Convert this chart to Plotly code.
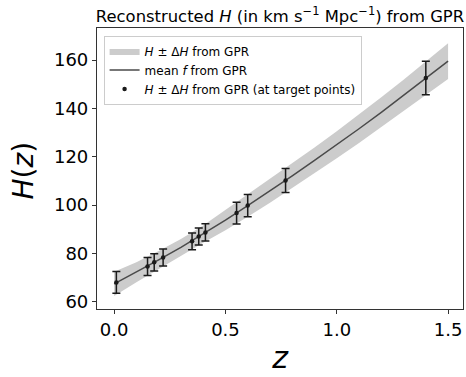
import plotly.graph_objects as go

# GPR reconstruction grid
z_grid = [0.0, 0.1, 0.2, 0.3, 0.4, 0.5, 0.6, 0.7, 0.8, 0.9, 1.0, 1.1, 1.2, 1.3, 1.4, 1.5]
H_mean = [67.4, 72.2, 77.3, 82.5, 88.0, 93.8, 99.8, 105.9, 112.1, 118.5, 125.0, 131.6, 138.4, 145.4, 152.5, 159.6]
H_sigma = [5.0, 4.1, 3.7, 3.5, 3.6, 4.2, 4.6, 4.9, 5.1, 5.3, 5.6, 5.9, 6.2, 6.5, 6.9, 7.4]

# target points
z_target = [0.01, 0.15, 0.18, 0.22, 0.35, 0.38, 0.41, 0.55, 0.60, 0.77, 1.40]
H_target = [68.0, 74.6, 76.3, 78.3, 85.0, 87.0, 88.7, 96.7, 99.8, 110.2, 152.6]
H_target_err = [4.5, 3.7, 3.6, 3.5, 3.5, 3.5, 3.6, 4.5, 4.6, 5.0, 6.9]

upper = [m + s for m, s in zip(H_mean, H_sigma)]
lower = [m - s for m, s in zip(H_mean, H_sigma)]

FONT = "DejaVu Sans"

fig = go.Figure()
fig.add_trace(go.Scatter(
    x=z_grid + z_grid[::-1], y=upper + lower[::-1],
    fill="toself", fillcolor="#cccccc", line=dict(width=0, color="#cccccc"),
    mode="lines", name="<i>H</i> ± Δ<i>H</i> from GPR", hoverinfo="skip"))
fig.add_trace(go.Scatter(
    x=z_grid, y=H_mean, mode="lines", line=dict(color="#4a4a4a", width=1.5),
    name="mean <i>f</i> from GPR"))
fig.add_trace(go.Scatter(
    x=z_target, y=H_target, mode="markers",
    marker=dict(color="#1a1a1a", size=4.5),
    error_y=dict(type="data", array=H_target_err, visible=True, color="#1a1a1a",
                 thickness=1.5, width=4),
    name="<i>H</i> ± Δ<i>H</i> from GPR (at target points)"))

fig.update_layout(
    width=466, height=377,
    margin=dict(l=97, r=3, t=28, b=68),
    paper_bgcolor="white", plot_bgcolor="white",
    font=dict(family=FONT, color="black"),
    title=dict(text="Reconstructed <i>H</i> (in km s<sup>−1</sup> Mpc<sup>−1</sup>) from GPR",
               x=(97 + 463) / 2 / 466, xanchor="center", y=1 - 22 / 377, yanchor="bottom",
               font=dict(size=16.4, family=FONT, color="black")),
    showlegend=True,
    legend=dict(x=0.018, y=0.973, xanchor="left", yanchor="top",
                bgcolor="rgba(255,255,255,0.8)", bordercolor="#cccccc", borderwidth=1,
                font=dict(size=12, family=FONT), tracegroupgap=2, itemwidth=30),
    annotations=[dict(text="<i>H</i>(<i>z</i>)", textangle=-90, showarrow=False,
                      xref="paper", yref="paper", x=(22.5 - 97) / 366, y=(309 - 171) / 281,
                      xanchor="center", yanchor="middle", font=dict(size=28, family=FONT))],
)
fig.update_xaxes(
    range=[-0.077, 1.567], tickvals=[0.0, 0.5, 1.0, 1.5], ticktext=["0.0", "0.5", "1.0", "1.5"],
    showline=True, linecolor="#333333", linewidth=1.2, mirror=True,
    ticks="outside", ticklen=4, tickwidth=1, tickcolor="#333333",
    showgrid=False, zeroline=False, tickfont=dict(size=18),
    title=dict(text="<i>z</i>", font=dict(size=30), standoff=8))
fig.update_yaxes(
    range=[57.0, 173.3], tickvals=[60, 80, 100, 120, 140, 160],
    showline=True, linecolor="#333333", linewidth=1.2, mirror=True,
    ticks="outside", ticklen=4, tickwidth=1, tickcolor="#333333",
    showgrid=False, zeroline=False, tickfont=dict(size=18))

fig.write_html("out.html")
